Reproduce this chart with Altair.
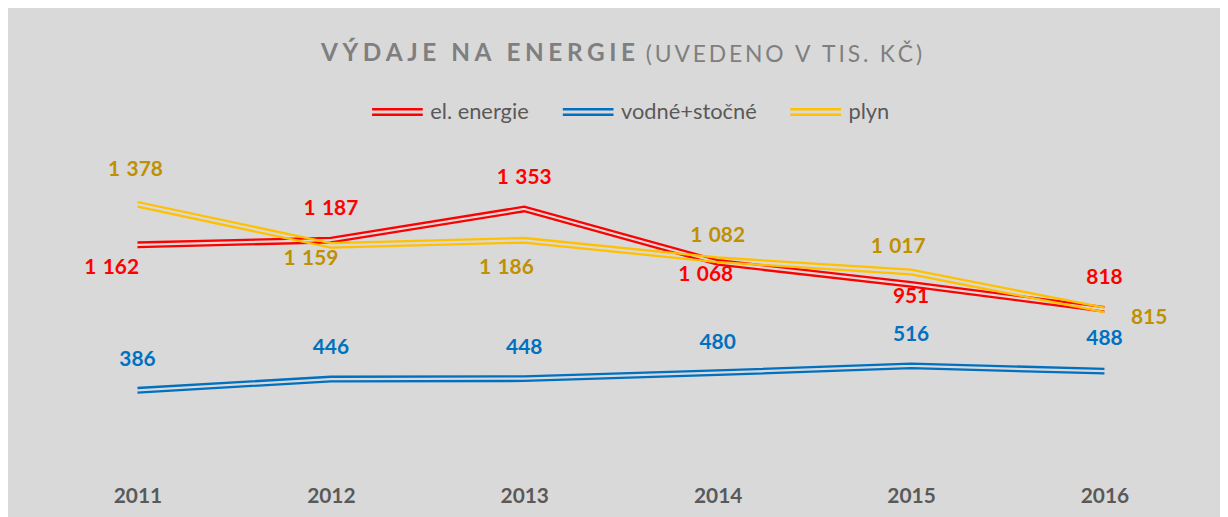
import altair as alt
import pandas as pd

years = ["2011", "2012", "2013", "2014", "2015", "2016"]
el_energie = [1162, 1187, 1353, 1068, 951, 818]
vodne_stocne = [386, 446, 448, 480, 516, 488]
plyn = [1378, 1159, 1186, 1082, 1017, 815]

series_names = ["el. energie", "vodné+stočné", "plyn"]
line_colors = ["#FF0000", "#0070C0", "#FFC000"]
label_colors = ["#FF0000", "#0070C0", "#BF9000"]

title_main = "VÝDAJE NA ENERGIE"
title_sub = "(UVEDENO V TIS. KČ)"

# label placement (dx, dy) in pixels relative to each point
el_label_pos = [(-26, 23), (0, -31), (0, -31), (-12, 13), (0, 13), (0, -31)]
vodne_label_pos = [(0, -30), (0, -31), (0, -31), (0, -30), (0, -31), (0, -32)]
plyn_label_pos = [(-2, -34), (-20, 14), (-18, 28), (0, -24), (-13, -25), (45, 8)]

values_by_series = [el_energie, vodne_stocne, plyn]
label_pos_by_series = [el_label_pos, vodne_label_pos, plyn_label_pos]

rows = []
for name, vals in zip(series_names, values_by_series):
    for y, v in zip(years, vals):
        rows.append({"year": y, "series": name, "value": v,
                     "label": f"{v:,}".replace(",", "\u00a0\u200a")})
df = pd.DataFrame(rows)

FONT = "Lato"
W, H = 1168, 302

x_enc = alt.X("year:N", scale=alt.Scale(type="point", padding=0.5),
              axis=alt.Axis(title=None, labelAngle=0, domain=False, ticks=False,
                            grid=False, labelFont=FONT, labelFontWeight="bold",
                            labelFontSize=21, labelColor="#595959", labelPadding=23))
y_enc = alt.Y("value:Q", scale=alt.Scale(domain=[0, 1600]), axis=None)
color_enc = alt.Color(
    "series:N",
    scale=alt.Scale(domain=series_names, range=line_colors),
    legend=alt.Legend(orient="none", legendX=332, legendY=-78, direction="horizontal",
                      title=None, symbolType="M-1,-0.11L1,-0.11M-1,0.11L1,0.11",
                      symbolSize=2601, symbolStrokeWidth=2.4,
                      labelFont=FONT, labelFontSize=22, labelColor="#595959",
                      labelOffset=6, columnPadding=28),
)

base = alt.Chart(df)
layers = []
# draw order: blue, red, yellow on top
for idx in [1, 0, 2]:
    name = series_names[idx]
    for off in (-2.3, 2.3):
        layers.append(
            base.transform_filter(alt.datum.series == name)
            .mark_line(strokeWidth=2.3, yOffset=off)
            .encode(x=x_enc, y=y_enc, color=color_enc)
        )

for idx, name in enumerate(series_names):
    for (dx, dy), y in zip(label_pos_by_series[idx], years):
        layers.append(
            base.transform_filter((alt.datum.series == name) & (alt.datum.year == y))
            .mark_text(dx=dx, dy=dy, font=FONT, fontWeight="bold", fontSize=21,
                       color=label_colors[idx], align="center", baseline="middle")
            .encode(x=x_enc, y=y_enc, text="label:N")
        )

def spaced(s, sep):
    return sep.join(s)

title_df = pd.DataFrame({"t": [spaced(title_main, "\u2009\u200a")]})
sub_df = pd.DataFrame({"t": [spaced(title_sub, "\u2009")]})

layers.append(
    alt.Chart(title_df).mark_text(font=FONT, fontWeight="bold", fontSize=24.5,
                                  color="#7F7F7F", align="left", baseline="alphabetic")
    .encode(x=alt.value(282), y=alt.value(-102), text="t:N")
)
layers.append(
    alt.Chart(sub_df).mark_text(font=FONT, fontWeight="normal", fontSize=23,
                                color="#7F7F7F", align="left", baseline="alphabetic")
    .encode(x=alt.value(609), y=alt.value(-101), text="t:N")
)

chart = alt.layer(*layers).properties(
    width=W, height=H,
    padding={"left": 33, "top": 154, "right": 19, "bottom": 53},
    autosize=alt.AutoSizeParams(type="none"),
    background="#D9D9D9",
).configure_view(stroke=None)

chart.save("out.html", embed_options={"renderer": "svg", "actions": False})
